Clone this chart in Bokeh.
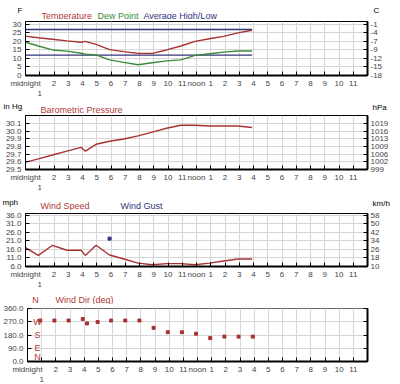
from bokeh.plotting import figure
from bokeh.layouts import column
from bokeh.models import LinearAxis, FixedTicker, Range1d
from bokeh.embed import file_html
from bokeh.resources import INLINE
from bokeh.core.properties import value

# ---------------- data ----------------
hours = [-0.1, 0.9, 1.9, 2.9, 3.9, 4.2, 4.95, 5.9, 6.9, 7.9, 8.9, 9.9, 10.9, 11.9, 12.9, 13.9, 14.9, 15.9]
temperature_f = [23.2, 22.2, 21.3, 20.3, 19.5, 20.0, 18.3, 15.2, 14.0, 13.0, 13.0, 15.0, 17.3, 20.0, 21.6, 23.0, 25.0, 26.6]
dew_point_f = [19.8, 17.3, 15.0, 14.3, 13.1, 12.5, 12.1, 9.2, 7.7, 6.3, 7.5, 8.6, 9.2, 11.8, 12.8, 13.7, 14.4, 14.4]
avg_hours = [-0.1, 15.9]
avg_high_f = [27, 27]
avg_low_f = [12, 12]
pressure_inhg = [29.59, 29.64, 29.69, 29.74, 29.79, 29.74, 29.83, 29.87, 29.90, 29.94, 29.99, 30.04, 30.08, 30.08, 30.07, 30.07, 30.07, 30.05]
wind_speed_mph = [17.5, 12.5, 18.4, 15.5, 15.5, 12.5, 18.4, 12.7, 10.4, 8.0, 7.0, 7.7, 7.7, 7.0, 8.0, 9.2, 10.4, 10.4]
gust_hours = [5.9]
wind_gust_mph = [22.3]
dir_hours = [0.9, 1.9, 2.9, 3.9, 4.2, 4.95, 5.9, 6.9, 7.9, 8.9, 9.9, 10.9, 11.9, 12.9, 13.9, 14.9, 15.9]
wind_dir_deg = [280, 280, 280, 290, 260, 270, 280, 280, 280, 230, 200, 200, 190, 160, 170, 170, 170]

hour_ticks = list(range(24))
hour_labels = ["midnight", "1", "2", "3", "4", "5", "6", "7", "8", "9", "10", "11",
               "noon", "1", "2", "3", "4", "5", "6", "7", "8", "9", "10", "11"]
temp_ticks_f = [0, 5, 10, 15, 20, 25, 30]
temp_labels_f = ["0", "5", "10", "15", "20", "25", "30"]
temp_labels_c = ["-18", "-15", "-12", "-9", "-7", "-4", "-1"]
pres_ticks = [29.5, 29.6, 29.7, 29.8, 29.9, 30.0, 30.1]
pres_labels_inhg = ["29.5", "29.6", "29.7", "29.8", "29.9", "30.0", "30.1"]
pres_labels_hpa = ["999", "1002", "1006", "1009", "1013", "1016", "1019"]
wind_ticks = [6, 11, 16, 21, 26, 31, 36]
wind_labels_mph = ["6.0", "11.0", "16.0", "21.0", "26.0", "31.0", "36.0"]
wind_labels_kmh = ["10", "18", "26", "34", "42", "50", "58"]
dir_ticks = [0, 90, 180, 270, 360]
dir_labels = ["0.0", "90.0", "180.0", "270.0", "360.0"]
compass_labels = ["N", "E", "S", "W", "N"]

# ---------------- style ----------------
RED = "#a83232"
TRED = "#b03838"
GREEN = "#3a8a3a"
NAVY = "#33337d"
GRID = "#d6d6d6"
FONT = "Liberation Sans"
TICK_FS = "8px"

W = 392
FL, FR = 25, 25


def header(height):
    h = figure(width=W, height=height, x_range=Range1d(0, W), y_range=Range1d(height, 0),
               min_border=0, min_border_left=0, min_border_right=0, min_border_top=0,
               min_border_bottom=0, x_axis_location=None, y_axis_location=None,
               output_backend="svg", toolbar_location=None)
    h.frame_align = False
    h.title.visible = False
    h.outline_line_color = None
    h.xgrid.visible = False
    h.ygrid.visible = False
    h.background_fill_color = "white"
    h.border_fill_color = "white"
    return h


def htext(h, x, y, text, color, size="8px", align="left"):
    h.text(x=[x], y=[y], text=[text], text_color=color, text_font=value(FONT),
           text_font_size=value(size), text_align=align, text_baseline="alphabetic")


def panel(height, top, bottom, y0, y1, ticks, left_labels, right_labels):
    p = figure(width=W, height=height, x_range=Range1d(0, 24), y_range=Range1d(y0, y1),
               min_border_left=FL, min_border_right=FR, min_border_top=top,
               min_border_bottom=bottom, output_backend="svg", toolbar_location=None)
    p.frame_align = False
    p.title.visible = False
    p.outline_line_color = "black"
    p.outline_line_width = 1
    p.background_fill_color = "white"
    p.border_fill_color = "white"
    xa = p.xaxis[0]
    xa.ticker = FixedTicker(ticks=hour_ticks)
    xa.major_label_overrides = {t: ("" if t == 1 else lab) for t, lab in zip(hour_ticks, hour_labels)}
    xa.major_tick_in = 4
    xa.major_tick_out = 0
    xa.minor_tick_line_color = None
    xa.axis_line_width = 2
    xa.major_label_standoff = 3
    xa.major_label_text_font = FONT
    xa.major_label_text_font_size = TICK_FS
    # second row of the hour axis: the "1" that sits under "midnight"
    xa2 = LinearAxis(ticker=FixedTicker(ticks=[1]), major_label_overrides={1: hour_labels[1]},
                     axis_line_color=None, major_tick_line_color=None, minor_tick_line_color=None,
                     major_tick_in=0, major_tick_out=0, major_label_standoff=0,
                     major_label_text_font=FONT, major_label_text_font_size=TICK_FS)
    p.add_layout(xa2, "below")
    ya = p.yaxis[0]
    ya.ticker = FixedTicker(ticks=ticks)
    ya.major_label_overrides = dict(zip(ticks, left_labels))
    ya.major_tick_in = 4
    ya.major_tick_out = 0
    ya.minor_tick_line_color = None
    ya.major_label_standoff = 4
    ya.major_label_text_font = FONT
    ya.major_label_text_font_size = TICK_FS
    ra = LinearAxis(ticker=FixedTicker(ticks=ticks),
                    major_label_overrides=dict(zip(ticks, right_labels)),
                    major_tick_in=4, major_tick_out=0, minor_tick_line_color=None,
                    axis_line_width=2, major_label_standoff=3,
                    major_label_text_font=FONT, major_label_text_font_size=TICK_FS)
    p.add_layout(ra, "right")
    p.xgrid.ticker = FixedTicker(ticks=hour_ticks)
    p.ygrid.ticker = FixedTicker(ticks=ticks)
    p.xgrid.grid_line_color = GRID
    p.ygrid.grid_line_color = GRID
    return p


# ---- header 1 (0..19) ----
h1 = header(19)
htext(h1, 17, 10, "F", "black")
htext(h1, 373, 10, "C", "black")
htext(h1, 41, 15, "Temperature", TRED, "9px")
htext(h1, 97, 15, "Dew Point", GREEN, "9px")
htext(h1, 143, 15, "Average High/Low", NAVY, "9px")

# ---- panel 1: temperature (19..98, frame 21..76) ----
p1 = panel(79, 2, 22, 0, 31.7, temp_ticks_f, temp_labels_f, temp_labels_c)
p1.line(avg_hours, avg_high_f, color=NAVY, line_width=1.3)
p1.line(avg_hours, avg_low_f, color=NAVY, line_width=1.3)
p1.line(hours, temperature_f, color=RED, line_width=1.4)
p1.line(hours, dew_point_f, color=GREEN, line_width=1.4)

# ---- header 2 (98..114) ----
h2 = header(16)
htext(h2, 3, 8, "in Hg", "black")
htext(h2, 372, 9, "hPa", "black")
htext(h2, 40, 11.8, "Barometric Pressure", TRED, "9px")

# ---- panel 2: pressure (114..192, frame 115..170) ----
p2 = panel(78, 1, 22, 29.5, 30.207, pres_ticks, pres_labels_inhg, pres_labels_hpa)
p2.line(hours, pressure_inhg, color=RED, line_width=1.4)

# ---- header 3 (192..210) ----
h3 = header(18)
htext(h3, 2, 10, "mph", "black")
htext(h3, 372, 11, "km/h", "black")
htext(h3, 40, 13.8, "Wind Speed", TRED, "9px")
htext(h3, 120, 13.8, "Wind Gust", NAVY, "9px")

# ---- panel 3: wind speed (210..289, frame 213..267) ----
p3 = panel(79, 3, 22, 6, 37, wind_ticks, wind_labels_mph, wind_labels_kmh)
p3.line(hours, wind_speed_mph, color=RED, line_width=1.4)
p3.scatter(gust_hours, wind_gust_mph, marker="square", size=3, color=NAVY)

# ---- header 4 (289..304) ----
h4 = header(15)
htext(h4, 55, 10.8, "Wind Dir (deg)", TRED, "9px")
htext(h4, 35, 10.8, compass_labels[4], TRED, "9px", align="center")

# ---- panel 4: wind direction (304..384, frame 308..362) ----
p4 = panel(80, 4, 22, 0, 362, dir_ticks, dir_labels, ["", "", "", "", ""])
p4.scatter(dir_hours, wind_dir_deg, marker="square", size=3, color=RED)
p4.text(x=[0.7] * 3, y=dir_ticks[1:4], text=compass_labels[1:4], text_color=TRED,
        text_font=value(FONT), text_font_size=value("9px"), text_align="center",
        text_baseline="middle")
p4.text(x=[0.7], y=dir_ticks[:1], text=compass_labels[:1], text_color=TRED,
        text_font=value(FONT), text_font_size=value("9px"), text_align="center",
        text_baseline="bottom")

layout = column(h1, p1, h2, p2, h3, p3, h4, p4, spacing=0)

open("out.html", "w").write(file_html(layout, INLINE))
